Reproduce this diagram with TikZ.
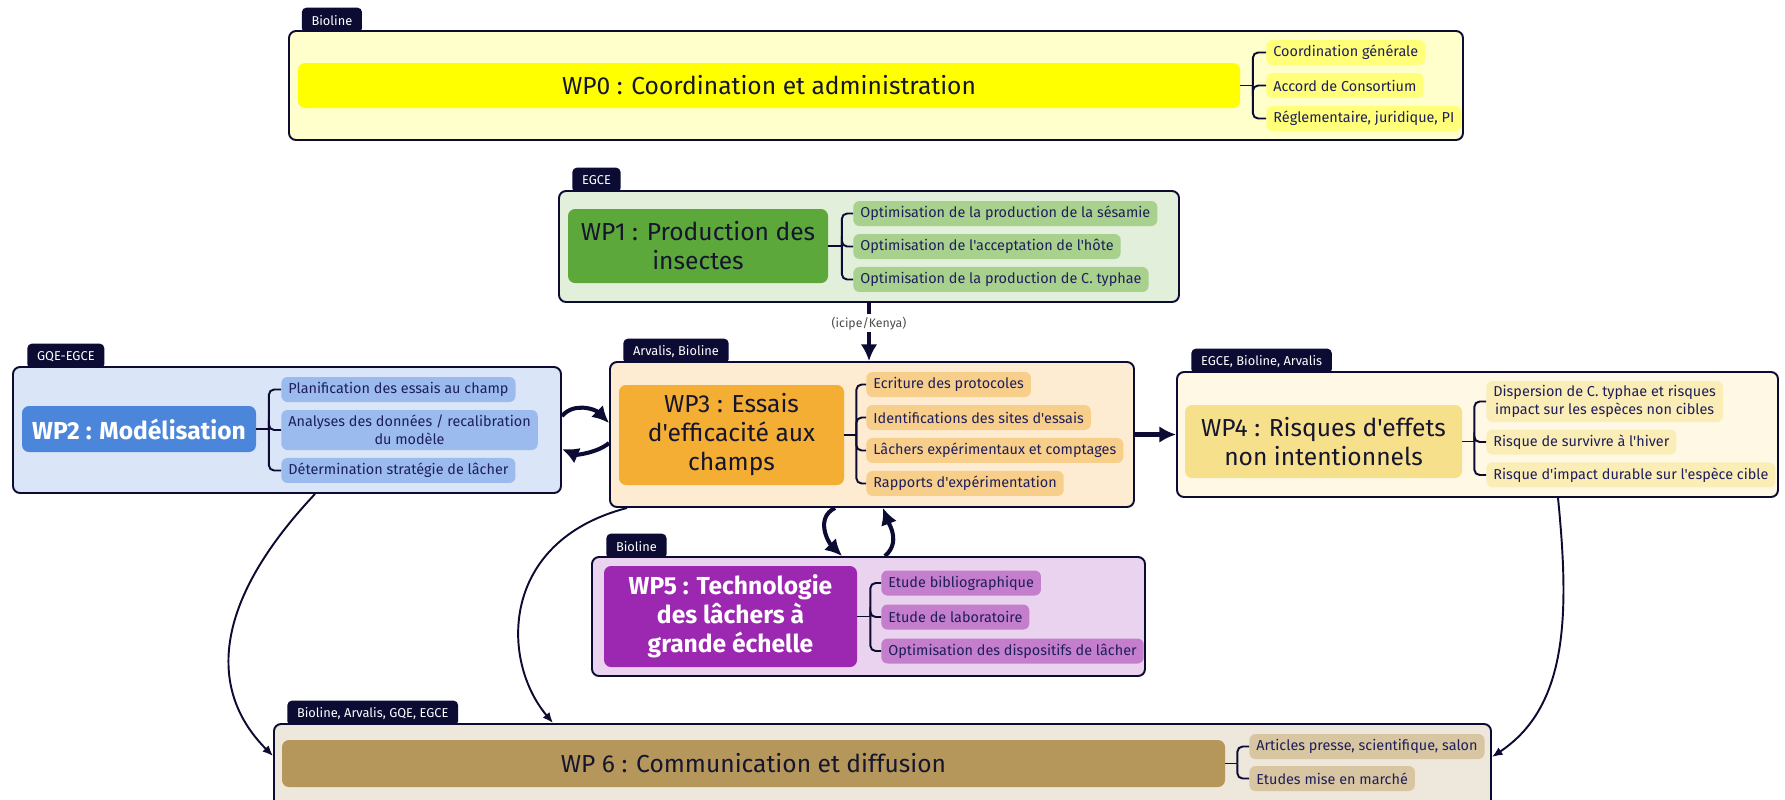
\documentclass[tikz,border=0pt]{standalone}
\usepackage{fontspec}
\setmainfont{Fira Sans}[Ligatures=TeXOff]
\usepackage{xcolor}
\usepackage{tikz}
\usetikzlibrary{positioning,fit,calc,backgrounds,arrows.meta}
\definecolor{navy}{HTML}{0B0B33}
\definecolor{titletext}{HTML}{15152E}
\definecolor{tasktext}{HTML}{1E1E5C}
\definecolor{wp0back}{HTML}{FFFFCC}
\definecolor{wp0main}{HTML}{FFFF00}
\definecolor{wp0task}{HTML}{FFFF7A}
\definecolor{wp1back}{HTML}{E2EFDA}
\definecolor{wp1main}{HTML}{5DA83A}
\definecolor{wp1task}{HTML}{A9D18E}
\definecolor{wp2back}{HTML}{DAE6F8}
\definecolor{wp2main}{HTML}{4C86DA}
\definecolor{wp2task}{HTML}{9BBBEE}
\definecolor{wp3back}{HTML}{FDEBD2}
\definecolor{wp3main}{HTML}{F3AE33}
\definecolor{wp3task}{HTML}{F8CF8A}
\definecolor{wp4back}{HTML}{FEF8E4}
\definecolor{wp4main}{HTML}{F6E08C}
\definecolor{wp4task}{HTML}{FAEDB6}
\definecolor{wp5back}{HTML}{EAD3EE}
\definecolor{wp5main}{HTML}{9C27B0}
\definecolor{wp5task}{HTML}{C47ECC}
\definecolor{wp6back}{HTML}{EEE7DC}
\definecolor{wp6main}{HTML}{B5975B}
\definecolor{wp6task}{HTML}{D7C6A1}
\newcommand\pxu{0.02cm}

\begin{document}
\begin{tikzpicture}[x=0.02cm, y=-0.02cm,
wpframe/.style={draw=navy, line width=1.1pt, rounded corners=4pt, fill=#1, inner sep=0pt},
wptitle/.style={fill=#1, rounded corners=4pt, inner sep=0pt, align=center, text=titletext, font=\fontsize{14}{16.5}\selectfont},
task/.style={fill=#1, rounded corners=3.5pt, inner xsep=4pt, inner ysep=1pt, minimum height={25*\pxu}, align=center, text=tasktext, font=\fontsize{8.2}{10}\selectfont},
partners/.style={fill=navy, text=white, rounded corners=2.5pt, inner xsep=5.5pt, inner ysep=0pt, minimum height={25*\pxu}, font=\fontsize{7.3}{8}\selectfont},
branch/.style={draw=navy, line width=1.1pt, rounded corners=3pt},
flow/.style={draw=navy, line width=2.3pt, -{Latex[length=9.5pt,width=9.5pt]}},
link/.style={draw=navy, line width=1.1pt, -{Latex[length=6pt,width=5pt]}}]
\useasboundingbox (0,0) rectangle (1785,799);
\clip (0,0) rectangle (1785,799);

% Work packages

\node[wpframe=wp0back, fit={(289,31) (1463,140)}] (wp0) {};
\node[wptitle=wp0main, minimum width={942*\pxu}, minimum height={45*\pxu}] (wp0title) at (769,85.5) {WP0 : Coordination et administration};
\coordinate[right=0.25cm of wp0title.east] (wp0fork);
\node[task=wp0task, anchor=west] (wp0a) at (1266,52.5) {Coordination générale};
\node[task=wp0task, below=0.66cm of wp0a.west, anchor=west] (wp0b) {Accord de Consortium};
\node[task=wp0task, below=0.66cm of wp0b.west, anchor=west] (wp0c) {Réglementaire, juridique, PI};

\node[wpframe=wp1back, fit={(559,191) (1179,302)}] (wp1) {};
\node[wptitle=wp1main, minimum width={260*\pxu}, minimum height={74*\pxu}] (wp1title) at (698,246) {WP1 : Production des\\insectes};
\coordinate[right=0.27cm of wp1title.east] (wp1fork);
\node[task=wp1task, anchor=west] (wp1a) at (853,213.5) {Optimisation de la production de la sésamie};
\node[task=wp1task, below=0.66cm of wp1a.west, anchor=west] (wp1b) {Optimisation de l'acceptation de l'hôte};
\node[task=wp1task, below=0.66cm of wp1b.west, anchor=west] (wp1c) {Optimisation de la production de C. typhae};

\node[wpframe=wp2back, fit={(13,367) (561,493)}] (wp2) {};
\node[wptitle=wp2main, text=white, font=\fontsize{14}{16.5}\selectfont\bfseries, minimum width={234*\pxu}, minimum height={46*\pxu}] (wp2title) at (139,429) {WP2 : Modélisation};
\coordinate[right=0.25cm of wp2title.east] (wp2fork);
\node[task=wp2task, anchor=west] (wp2a) at (281,389.5) {Planification des essais au champ};
\node[task=wp2task, minimum height={40*\pxu}, below=0.81cm of wp2a.west, anchor=west] (wp2b) {Analyses des données / recalibration\\du modèle};
\node[task=wp2task, below=0.81cm of wp2b.west, anchor=west] (wp2c) {Détermination stratégie de lâcher};

\node[wpframe=wp3back, fit={(610,362) (1134,507)}] (wp3) {};
\node[wptitle=wp3main, minimum width={225*\pxu}, minimum height={100*\pxu}] (wp3title) at (731.5,435) {WP3 : Essais\\d'efficacité aux\\champs};
\coordinate[right=0.24cm of wp3title.east] (wp3fork);
\node[task=wp3task, anchor=west] (wp3a) at (866,384.5) {Ecriture des protocoles};
\node[task=wp3task, below=0.66cm of wp3a.west, anchor=west] (wp3b) {Identifications des sites d'essais};
\node[task=wp3task, below=0.66cm of wp3b.west, anchor=west] (wp3c) {Lâchers expérimentaux et comptages};
\node[task=wp3task, below=0.66cm of wp3c.west, anchor=west] (wp3d) {Rapports d'expérimentation};

\node[wpframe=wp4back, fit={(1177,372) (1778,497)}] (wp4) {};
\node[wptitle=wp4main, minimum width={277*\pxu}, minimum height={73*\pxu}] (wp4title) at (1323.5,441.5) {WP4 : Risques d'effets\\non intentionnels};
\coordinate[right=0.24cm of wp4title.east] (wp4fork);
\node[task=wp4task, minimum height={41*\pxu}, anchor=west] (wp4a) at (1486,401.5) {Dispersion de C. typhae et risques\\impact sur les espèces non cibles};
\node[task=wp4task, below=0.81cm of wp4a.west, anchor=west] (wp4b) {Risque de survivre à l'hiver};
\node[task=wp4task, below=0.66cm of wp4b.west, anchor=west] (wp4c) {Risque d'impact durable sur l'espèce cible};

\node[wpframe=wp5back, fit={(592,557) (1145,676)}] (wp5) {};
\node[wptitle=wp5main, text=white, font=\fontsize{14}{16.5}\selectfont\bfseries, minimum width={253*\pxu}, minimum height={101*\pxu}] (wp5title) at (730.5,616.5) {WP5 : Technologie\\des lâchers à\\grande échelle};
\coordinate[right=0.26cm of wp5title.east] (wp5fork);
\node[task=wp5task, anchor=west] (wp5a) at (881,583) {Etude bibliographique};
\node[task=wp5task, below=0.68cm of wp5a.west, anchor=west] (wp5b) {Etude de laboratoire};
\node[task=wp5task, below=0.68cm of wp5b.west, anchor=west] (wp5c) {Optimisation des dispositifs de lâcher};

\node[wpframe=wp6back, fit={(274,724) (1491,815)}] (wp6) {};
\node[wptitle=wp6main, minimum width={943*\pxu}, minimum height={47*\pxu}] (wp6title) at (753.5,763.5) {WP 6 : Communication et diffusion};
\coordinate[right=0.24cm of wp6title.east] (wp6fork);
\node[task=wp6task, anchor=west] (wp6a) at (1249,746.5) {Articles presse, scientifique, salon};
\node[task=wp6task, below=0.64cm of wp6a.west, anchor=west] (wp6b) {Etudes mise en marché};

% Partners

\begin{scope}[on background layer]
\node[partners, above right=-0.06cm and 0.27cm of wp0.north west] (wp0tag) {Bioline};
\node[partners, above right=-0.06cm and 0.28cm of wp1.north west] (wp1tag) {EGCE};
\node[partners, above right=-0.06cm and 0.3cm of wp2.north west] (wp2tag) {GQE-EGCE};
\node[partners, above right=-0.06cm and 0.28cm of wp3.north west] (wp3tag) {Arvalis, Bioline};
\node[partners, above right=-0.06cm and 0.3cm of wp4.north west] (wp4tag) {EGCE, Bioline, Arvalis};
\node[partners, above right=-0.06cm and 0.3cm of wp5.north west] (wp5tag) {Bioline};
\node[partners, above right=-0.06cm and 0.28cm of wp6.north west] (wp6tag) {Bioline, Arvalis, GQE, EGCE};
\end{scope}

% Tasks

\foreach \wp in {wp0,wp1,wp2,wp3,wp4,wp5,wp6}
  \draw[branch] (\wp title.east) -- (\wp fork);
\foreach \wp in {wp0,wp1,wp2,wp4,wp5}
  \foreach \t in {a,b,c}
    \draw[branch] (\wp fork) |- (\wp\t.west);
\foreach \t in {a,b,c,d}
  \draw[branch] (wp3fork) |- (wp3\t.west);
\foreach \t in {a,b}
  \draw[branch] (wp6fork) |- (wp6\t.west);

% Links between work packages

\draw[flow] (wp1.south) -- node[pos=0.35, fill=white, text=black!70, font=\fontsize{7}{8}\selectfont, inner sep=1.5pt] (kenya) {(icipe/Kenya)} (wp1.south |- wp3.north);
\draw[flow] (wp3.east) -- (wp4.west);
\draw[flow] ($(wp2.east)+(0,-14)$) .. controls +(12,-14) and +(-14,-14) .. ($(wp3.west)+(0,-11.5)$);
\draw[flow] ($(wp3.west)+(0,8.5)$) .. controls +(-12,10) and +(14,6) .. ($(wp2.east)+(0,19)$);
\draw[flow] ($(wp3.south)+(-37,0)$) .. controls +(-20,10) and +(-14,-14) .. ($(wp5.north)+(-26.5,0)$);
\draw[flow] ($(wp5.north)+(16.5,0)$) .. controls +(16,-14) and +(6,16) .. ($(wp3.south)+(11,0)$);
\draw[link] ($(wp2.south)+(28,0)$) .. controls +(-110,117) and +(-60,-60) .. ($(wp6.west)+(0,-13.5)$);
\draw[link] ($(wp3.south)+(-245,0)$) .. controls +(-127,33) and +(-53,-63) .. ($(wp6.north)+(-329.5,0)$);
\draw[link] ($(wp4.south)+(80.5,0)$) .. controls +(12,120) and +(75,-50) .. ($(wp6.east)+(0,-12.5)$);
\end{tikzpicture}
\end{document}
